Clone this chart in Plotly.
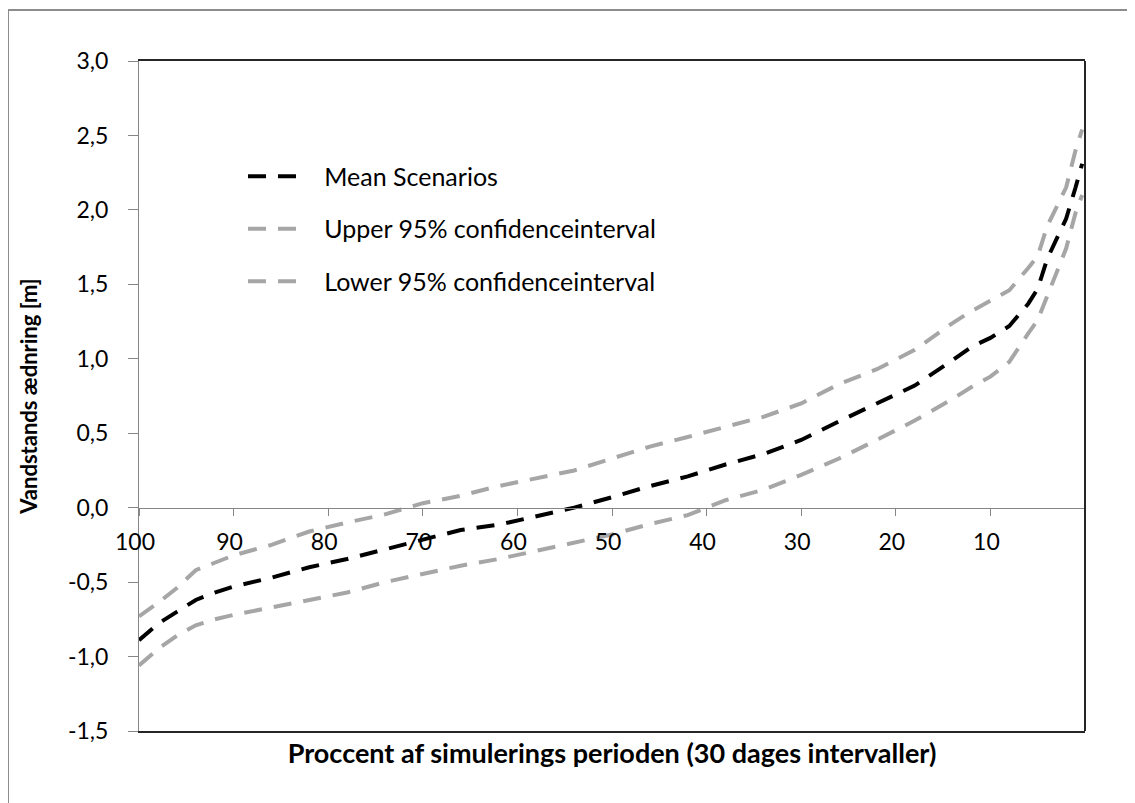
import plotly.graph_objects as go

# Percent of simulation period (x, reversed axis)
percent = [100, 98, 96, 94, 92, 90, 86, 82, 78, 74, 70, 66, 62, 58, 54, 50, 46, 42,
           38, 34, 30, 26, 22, 18, 14, 12, 10, 8, 6, 5, 4, 3, 2, 1, 0.3]

mean_scen = [-0.89, -0.78, -0.70, -0.62, -0.57, -0.53, -0.47, -0.40, -0.345, -0.28,
             -0.215, -0.15, -0.115, -0.055, 0.00, 0.07, 0.145, 0.21, 0.29, 0.36,
             0.455, 0.58, 0.70, 0.82, 0.99, 1.08, 1.14, 1.22, 1.37, 1.47, 1.67,
             1.80, 1.94, 2.15, 2.31]

upper_ci = [-0.73, -0.64, -0.54, -0.42, -0.37, -0.32, -0.25, -0.16, -0.10, -0.045,
            0.03, 0.08, 0.145, 0.20, 0.25, 0.33, 0.41, 0.475, 0.54, 0.61, 0.70,
            0.83, 0.93, 1.06, 1.24, 1.32, 1.39, 1.46, 1.61, 1.69, 1.89, 2.02, 2.15,
            2.40, 2.54]

lower_ci = [-1.06, -0.95, -0.86, -0.79, -0.75, -0.72, -0.67, -0.62, -0.57, -0.50,
            -0.445, -0.39, -0.345, -0.29, -0.24, -0.18, -0.11, -0.05, 0.05, 0.12,
            0.22, 0.33, 0.455, 0.585, 0.73, 0.81, 0.88, 0.98, 1.17, 1.26, 1.42,
            1.58, 1.74, 1.98, 2.10]

series_names = ["Mean Scenarios", "Upper 95% confidenceinterval", "Lower 95% confidenceinterval"]

y_ticks = [-1.5, -1.0, -0.5, 0.0, 0.5, 1.0, 1.5, 2.0, 2.5, 3.0]
y_ticktext = ["-1,5", "-1,0", "-0,5", "0,0", "0,5", "1,0", "1,5", "2,0", "2,5", "3,0"]
x_ticks = [100, 90, 80, 70, 60, 50, 40, 30, 20, 10]
x_ticktext = ["100", "90", "80", "70", "60", "50", "40", "30", "20", "10"]

FONT = "Lato"
GREY = "#A6A6A6"
AXGREY = "#868686"
PAD = "\u00a0\u00a0\u00a0"  # extra gap between legend sample and label

# page body has an 8px margin: figure origin sits at (8, 8)
W, H = 1127, 795
L, R, T, B = 131, 50, 53, 72
PW, PH = W - L - R, H - T - B

fig = go.Figure()
dash = "18px,12px"
for vals, name, col, grp in [(mean_scen, series_names[0], "black", "a"),
                             (upper_ci, series_names[1], GREY, "b"),
                             (lower_ci, series_names[2], GREY, "c")]:
    fig.add_trace(go.Scatter(x=percent, y=vals, mode="lines", name=PAD + name,
                             line=dict(color=col, width=4, dash=dash), legendgroup=grp))
# invisible trace to carry the crossing x axis at y = 0
fig.add_trace(go.Scatter(x=[percent[0]], y=[None], xaxis="x2", showlegend=False,
                         hoverinfo="skip"))

fig.update_layout(
    width=W, height=H,
    margin=dict(l=L, r=R, t=T, b=B),
    paper_bgcolor="white", plot_bgcolor="white",
    font=dict(family=FONT, size=23, color="black"),
    showlegend=True,
    legend=dict(x=(243 - 139) / PW, y=0.862, xanchor="left", yanchor="top",
                bgcolor="rgba(0,0,0,0)", font=dict(family=FONT, size=25),
                tracegroupgap=17, itemwidth=52),
    xaxis=dict(range=[100, 0], showticklabels=False, ticks="", showgrid=False,
               zeroline=False, showline=True, linecolor="#262626", linewidth=2,
               mirror=True,
               title=dict(text="<b>Proccent af simulerings perioden (30 dages intervaller)</b>",
                          font=dict(family=FONT, size=27), standoff=12)),
    xaxis2=dict(range=[100, 0], overlaying="x", anchor="free", position=1/3,
                side="bottom", tickmode="array", tickvals=x_ticks, ticktext=x_ticktext,
                ticks="outside", ticklen=7, tickcolor=AXGREY, showline=True,
                linecolor=AXGREY, linewidth=1, showgrid=False, zeroline=False,
                tickfont=dict(family=FONT, size=23), ticklabelshift=4,
                ticklabelstandoff=7),
    yaxis=dict(range=[-1.5, 3.0], tickmode="array", tickvals=y_ticks, ticktext=y_ticktext,
               ticks="outside", ticklen=10, tickcolor=AXGREY, showline=True,
               linecolor=AXGREY, linewidth=1, showgrid=False, zeroline=False,
               tickfont=dict(family=FONT, size=23), ticklabelstandoff=15,
               title=dict(text="<b>Vandstands ædnring [m]</b>",
                          font=dict(family=FONT, size=22), standoff=24)),
    shapes=[
        dict(type="line", xref="paper", yref="paper", x0=1, x1=1, y0=0, y1=1,
             line=dict(color="#262626", width=2)),
        dict(type="rect", xref="paper", yref="paper",
             x0=(0 - L) / PW, x1=(W + 20 - L) / PW,
             y0=(T + PH - (H + 20)) / PH, y1=(T + PH - 2) / PH,
             line=dict(color="#8C8C8C", width=2), fillcolor="rgba(0,0,0,0)"),
    ],
)

fig.write_html("out.html")
